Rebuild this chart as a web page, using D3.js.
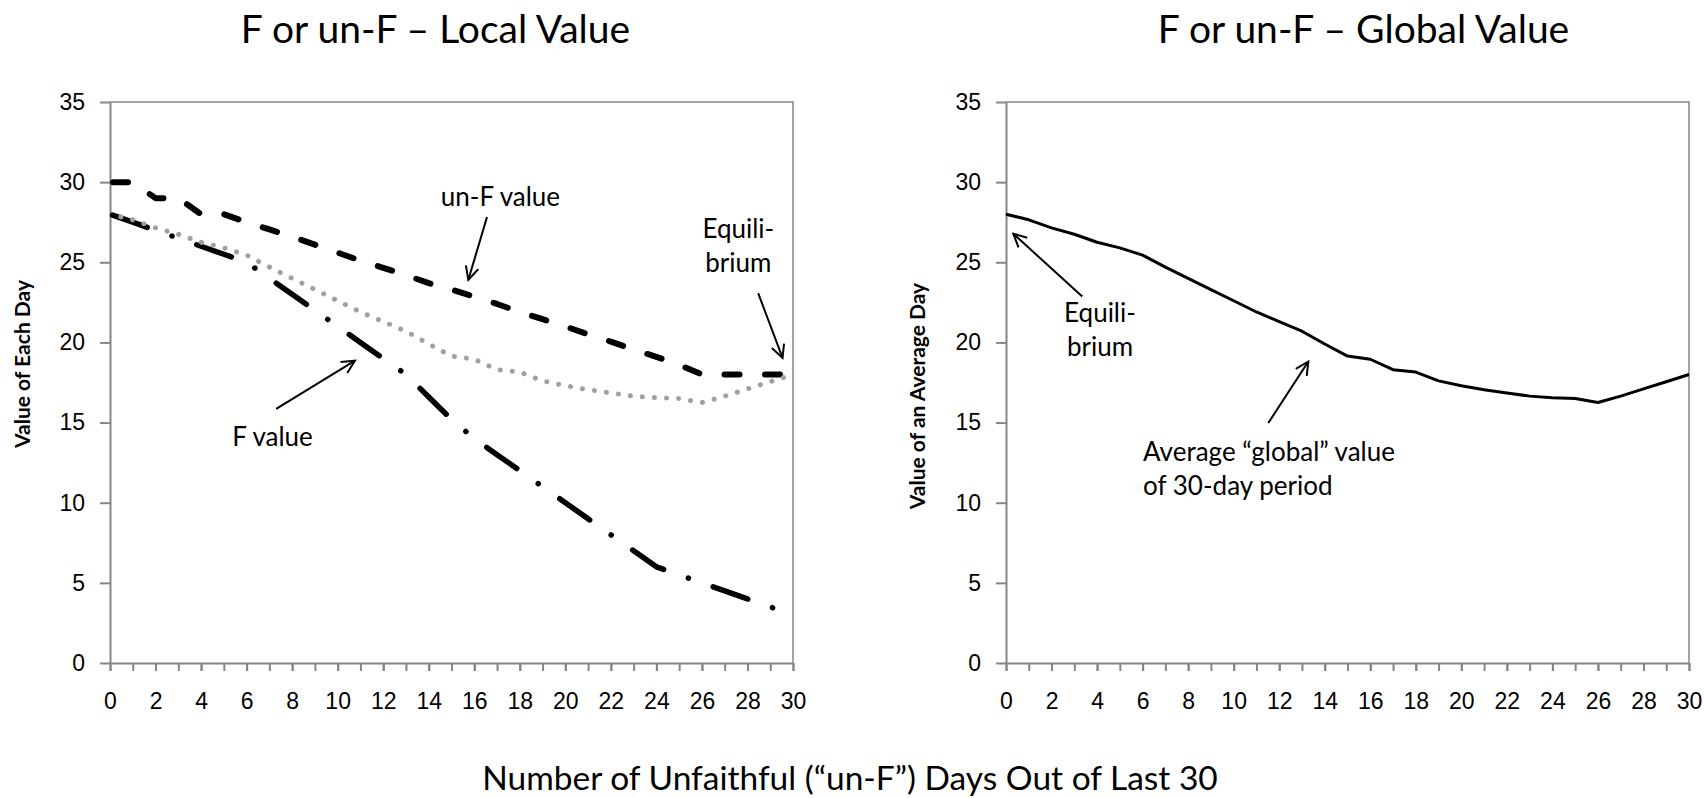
<!DOCTYPE html>
<html>
<head>
<meta charset="utf-8">
<script src="https://cdn.jsdelivr.net/npm/d3@7"></script>
<style>
    body { margin: 0; background: #fff; }
    svg { display: block; font-family: Lato, "Open Sans", sans-serif; }
    .domain { stroke: #868686; stroke-width: 2; }
    .tick line { stroke: #868686; stroke-width: 2; }
    .tick text { font-size: 23px; fill: #000; }
</style>
</head>
<body>
<div id="chart"></div>
<script>
// number of un-F days out of the last 30
const days = [0, 1, 2, 3, 4, 5, 6, 7, 8, 9, 10, 11, 12, 13, 14, 15, 16, 17, 18, 19, 20, 21, 22, 23, 24, 25, 26, 27, 28, 29, 30];
const xTickLabels = [0, 2, 4, 6, 8, 10, 12, 14, 16, 18, 20, 22, 24, 26, 28, 30];
const yTicks = [0, 5, 10, 15, 20, 25, 30, 35];

// value of each day (left panel)
const unFValue = [30, 30, 29, 29, 28, 28, 27.5, 27.05, 26.6, 26.1, 25.6, 25.1, 24.65, 24.2, 23.7, 23.3,
    22.85, 22.4, 21.9, 21.45, 21.0, 20.5, 20.05, 19.55, 19.1, 18.6, 18, 18, 18, 18, 18];
const fValue = [28, 27.5, 27, 26.5, 26, 25.5, 25, 24, 23, 22, 21, 20, 19, 18, 16.6, 15.2,
    14, 13, 12, 11, 10, 9, 8, 7, 6, 5.5, 5, 4.5, 4, 3.5, 3];
// average "global" value of the 30-day period (dotted on the left, solid on the right)
const globalValue = [28, 27.65, 27.15, 26.75, 26.25, 25.9, 25.45, 24.7, 24.0, 23.3, 22.6, 21.9, 21.3, 20.7, 19.9, 19.15,
    18.95, 18.3, 18.15, 17.6, 17.3, 17.05, 16.85, 16.65, 16.55, 16.5, 16.25, 16.65, 17.1, 17.55, 18];

// annotations, in data units
const localNotes = [
    { lines: ["un-F value"], x: 17.15, y: 28.5 },
    { lines: ["Equili-", "brium"], x: 27.6, y: 26.5 },
    { lines: ["F value"], x: 7.14, y: 13.56 }
];
const localArrows = [
    { x1: 16.56, y1: 27.82, x2: 15.74, y2: 23.91 },
    { x1: 28.47, y1: 23.08, x2: 29.54, y2: 19.03 },
    { x1: 7.3, y1: 15.86, x2: 10.76, y2: 18.86 }
];
const globalNotes = [
    { lines: ["Equili-", "brium"], x: 4.13, y: 21.27 },
    { lines: ["Average \u201cglobal\u201d value", "of 30-day period"], x: 6.02, y: 12.58, anchor: "start" }
];
const globalArrows = [
    { x1: 3.35, y1: 22.87, x2: 0.32, y2: 26.78 },
    { x1: 11.52, y1: 14.97, x2: 13.28, y2: 18.81 }
];

let width = 1705,
    height = 798;

const svg = d3.select("#chart")
    .append("svg")
    .attr("width", width)
    .attr("height", height);

svg.append("defs")
    .append("marker")
    .attr("id", "arrow")
    .attr("viewBox", "-15 -8 17 16")
    .attr("refX", 0)
    .attr("refY", 0)
    .attr("markerWidth", 17)
    .attr("markerHeight", 16)
    .attr("markerUnits", "userSpaceOnUse")
    .attr("orient", "auto")
    .append("path")
    .attr("d", "M-13,-6.5L0,0L-13,6.5")
    .attr("fill", "none")
    .attr("stroke", "#000")
    .attr("stroke-width", 2);

function panel(left, opts) {
    let top = 102, bottom = 663, w = 683;
    let x = d3.scaleLinear().domain([0, 30]).range([left, left + w]);
    let y = d3.scaleLinear().domain([0, 35]).range([bottom, top]);

    const g = svg.append("g");

    // frame: top and right edges
    g.append("path")
        .attr("d", `M${left},${top}H${left + w}V${bottom}`)
        .attr("fill", "none")
        .attr("stroke", "#868686")
        .attr("stroke-width", 1.5);

    // minor ticks every day, labels every 2
    g.append("g")
        .attr("transform", `translate(0,${bottom})`)
        .call(d3.axisBottom(x).tickValues(days).tickSize(8).tickSizeOuter(0).tickFormat(""));
    g.append("g")
        .attr("transform", `translate(0,${bottom})`)
        .call(d3.axisBottom(x).tickValues(xTickLabels).tickSize(8).tickSizeOuter(0).tickPadding(22).tickFormat(d3.format("d")))
        .call((a) => a.select(".domain").remove());

    g.append("g")
        .attr("transform", `translate(${left},0)`)
        .call(d3.axisLeft(y).tickValues(yTicks).tickSize(10).tickSizeOuter(0).tickPadding(15));

    g.append("text")
        .attr("x", (x(0) + x(30)) / 2 + opts.titleShift)
        .attr("y", 43)
        .attr("text-anchor", "middle")
        .attr("font-size", 39)
        .text(opts.title);

    g.append("text")
        .attr("transform", `translate(${opts.yLabelX},${opts.yLabelY}) rotate(-90)`)
        .attr("text-anchor", "middle")
        .attr("font-size", 21)
        .attr("font-weight", "bold")
        .text(opts.yLabel);

    let line = d3.line()
        .x((d, i) => x(days[i]))
        .y((d) => y(d));

    for (let s of opts.series) {
        g.append("path")
            .datum(s.values)
            .attr("fill", "none")
            .attr("stroke", s.color)
            .attr("stroke-width", s.width)
            .attr("stroke-linecap", s.cap || "butt")
            .attr("stroke-linejoin", "round")
            .attr("stroke-dasharray", s.dash || null)
            .attr("stroke-dashoffset", s.offset || 0)
            .attr("d", line);
    }

    for (let n of opts.notes) {
        let t = g.append("text")
            .attr("x", x(n.x))
            .attr("y", y(n.y))
            .attr("text-anchor", n.anchor || "middle")
            .attr("font-size", 26);
        n.lines.forEach((l, i) => {
            t.append("tspan")
                .attr("x", x(n.x))
                .attr("dy", i == 0 ? 0 : "1.3em")
                .text(l);
        });
    }

    for (let a of opts.arrows) {
        g.append("line")
            .attr("x1", x(a.x1))
            .attr("y1", y(a.y1))
            .attr("x2", x(a.x2))
            .attr("y2", y(a.y2))
            .attr("stroke", "#000")
            .attr("stroke-width", 2)
            .attr("marker-end", "url(#arrow)");
    }
}

panel(110, {
    title: "F or un-F \u2013 Local Value",
    titleShift: -16,
    yLabel: "Value of Each Day",
    yLabelX: 30,
    yLabelY: 364,
    series: [
        { values: fValue, color: "#000", width: 5.5, cap: "round", dash: "36.7,26.2,0.1,26.2", offset: -2.75 },
        { values: unFValue, color: "#000", width: 6, cap: "round", dash: "15,25.5", offset: -3 },
        { values: globalValue, color: "#a0a0a0", width: 5, cap: "round", dash: "0.1,12", offset: 1 }
    ],
    notes: localNotes,
    arrows: localArrows
});

panel(1006, {
    title: "F or un-F \u2013 Global Value",
    titleShift: 16,
    yLabel: "Value of an Average Day",
    yLabelX: 925,
    yLabelY: 396,
    series: [
        { values: globalValue, color: "#000", width: 3 }
    ],
    notes: globalNotes,
    arrows: globalArrows
});

svg.append("text")
    .attr("x", 850)
    .attr("y", 790)
    .attr("text-anchor", "middle")
    .attr("font-size", 33.5)
    .text("Number of Unfaithful (\u201cun-F\u201d) Days Out of Last 30");
</script>
</body>
</html>
